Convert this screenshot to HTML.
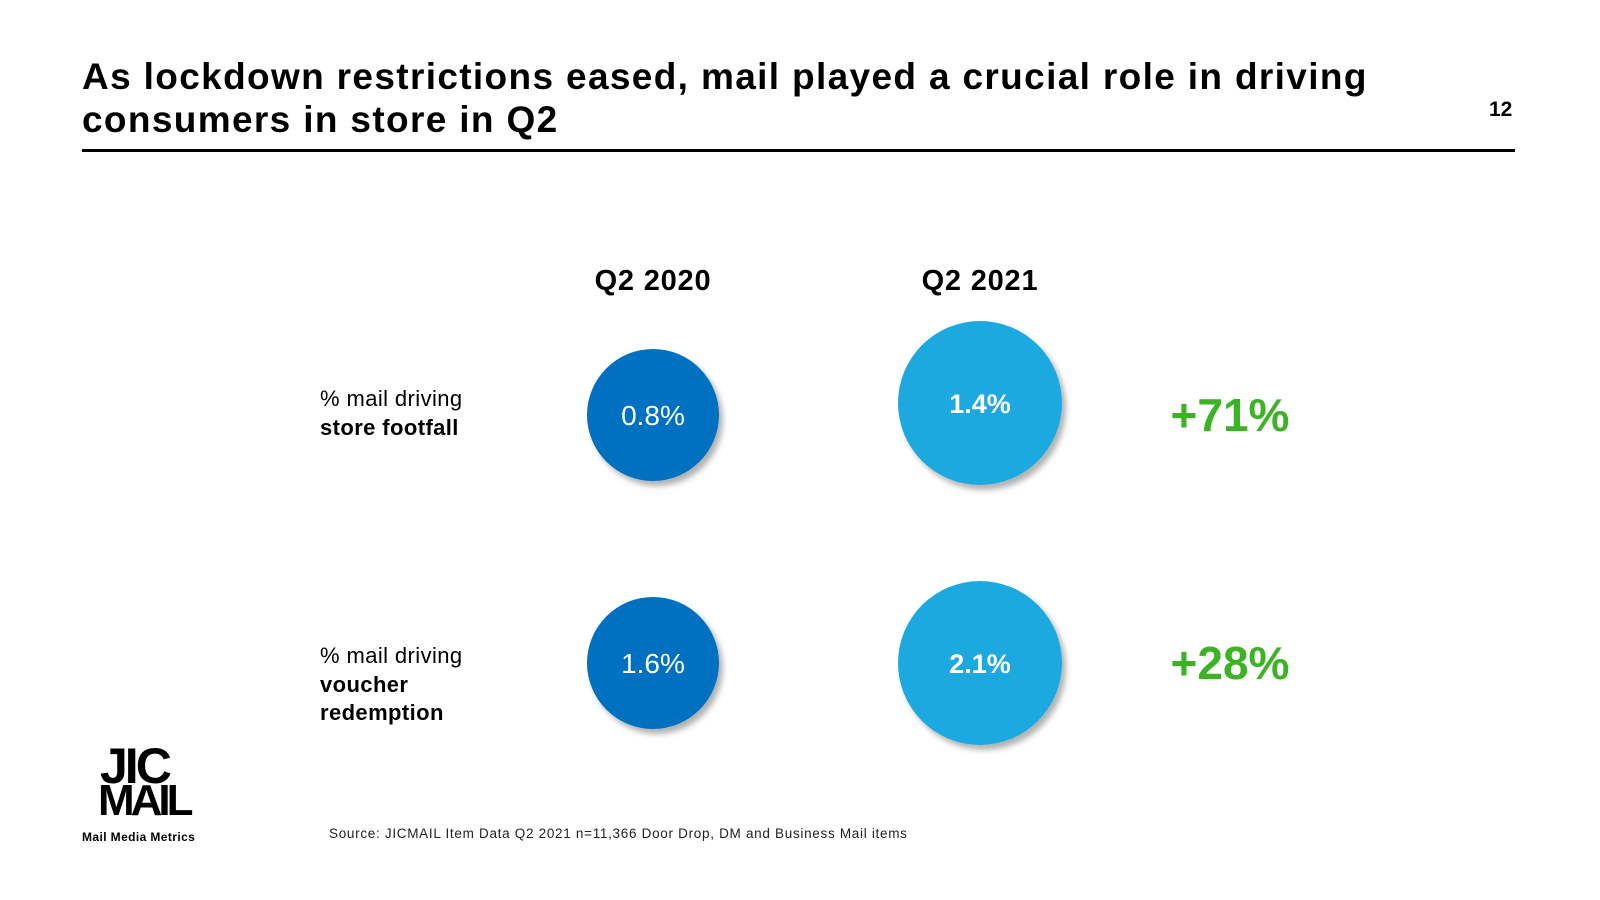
<!DOCTYPE html>
<html><head><meta charset="utf-8"><style>
body{margin:0;width:1600px;height:900px;background:#fff;font-family:"Liberation Sans",Arial,sans-serif;position:relative;overflow:hidden}
.abs{position:absolute}
</style></head><body>
<div class="abs" style="left:82px;top:55px;font-size:37px;font-weight:bold;line-height:43px;color:#000;letter-spacing:1.35px">As lockdown restrictions eased, mail played a crucial role in driving<br>consumers in store in Q2</div>
<div class="abs" style="left:1489px;top:98px;font-size:21px;font-weight:bold">12</div>
<div class="abs" style="left:82px;top:149px;width:1433px;height:3px;background:#000"></div>
<svg class="abs" style="left:0;top:0" width="1600" height="900">
<defs><filter id="sh" x="-30%" y="-30%" width="160%" height="160%"><feDropShadow dx="4" dy="5" stdDeviation="3" flood-color="#000" flood-opacity="0.3"/></filter></defs>
<g id="g"></g>
</svg>
<div class="abs" style="left:329px;top:826px;font-size:13.5px;color:#222;letter-spacing:0.7px">Source: JICMAIL Item Data Q2 2021 n=11,366 Door Drop, DM and Business Mail items</div>
<div class="abs" style="left:82px;top:748px;width:130px;height:100px">
<div style="position:absolute;left:18px;top:-2px;font-size:50px;font-weight:900;line-height:40px;letter-spacing:-3px">JIC</div>
<div style="position:absolute;left:16px;top:34px;font-size:44px;font-weight:900;line-height:38px;letter-spacing:-4px">MAIL</div>
<div style="position:absolute;left:0;top:82px;font-size:12px;font-weight:900;letter-spacing:0.4px;white-space:nowrap">Mail Media Metrics</div>
</div>
<script>
const periods=["Q2 2020","Q2 2021"];
const metrics=["store footfall","voucher redemption"];
const values2020=[0.8,1.6];
const values2021=[1.4,2.1];
const changes=["+71%","+28%"];
const NS="http://www.w3.org/2000/svg",g=document.getElementById('g');
const colX=[653,980],rowY=[415,663],radii=[66,82],colors=["#0070c0","#1da9e0"];
function t(x,y,s,attrs){const e=document.createElementNS(NS,'text');e.setAttribute('x',x);e.setAttribute('y',y);for(const k in attrs)e.setAttribute(k,attrs[k]);e.textContent=s;g.appendChild(e);return e;}
periods.forEach((p,i)=>{const e=t(colX[i],290,p,{'text-anchor':'middle','font-size':29,'font-weight':'bold','font-family':'Liberation Sans','letter-spacing':'0.8'});

});
metrics.forEach((m,r)=>{
[values2020,values2021].forEach((vals,c)=>{
const cy=rowY[r]+(c==1&&r==0?-12:0);
const ci=document.createElementNS(NS,'circle');
ci.setAttribute('cx',colX[c]);ci.setAttribute('cy',cy);ci.setAttribute('r',radii[c]);ci.setAttribute('fill',colors[c]);ci.setAttribute('filter','url(#sh)');


g.appendChild(ci);
const e=t(colX[c],cy+10,vals[r].toFixed(1)+'%',{'text-anchor':'middle','fill':'#fff','font-size':c?27:28,'font-weight':c?'bold':'normal','font-family':'Liberation Sans'});


});
const ch=t(1230,rowY[r]+16,changes[r],{'text-anchor':'middle','fill':'#3cb324','font-size':46,'font-weight':'bold','font-family':'Liberation Sans'});


});
const st={'font-size':22,'font-family':'Liberation Sans','letter-spacing':'0.4'};
const bst={'font-size':22,'font-weight':'bold','font-family':'Liberation Sans','letter-spacing':'0.4'};
const l1=t(320,406,'% mail driving',st);

t(320,435,'store footfall',bst);
const l2=t(320,663,'% mail driving',st);

t(320,692,'voucher',bst);
t(320,720,'redemption',bst);
</script>
</body></html>
